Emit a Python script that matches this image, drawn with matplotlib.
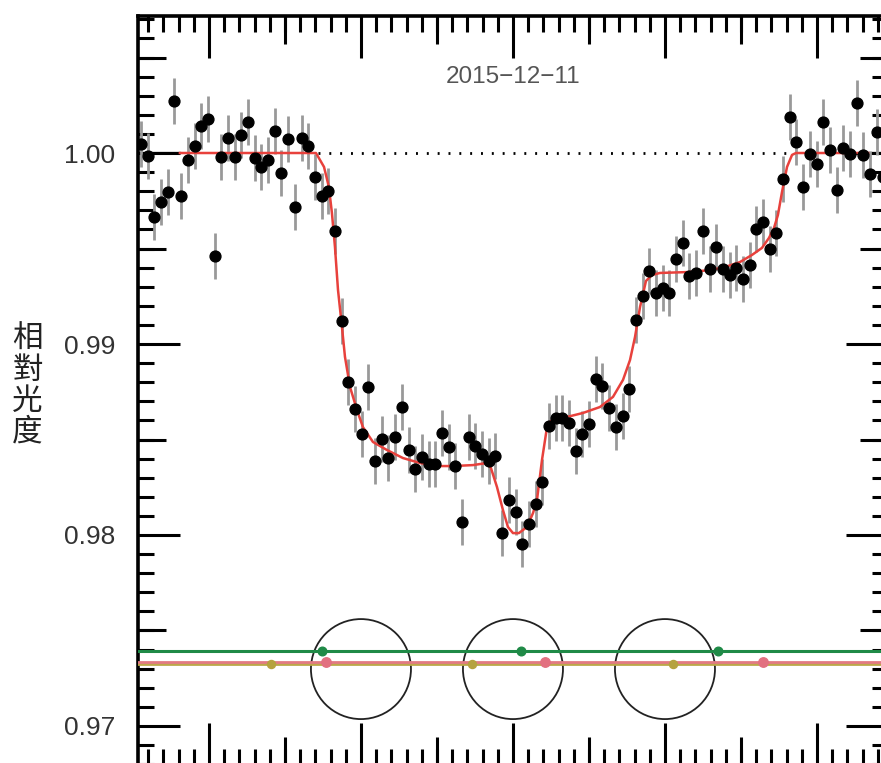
import matplotlib
matplotlib.use('Agg')
import matplotlib.pyplot as plt
from matplotlib.patches import Ellipse
from matplotlib.ticker import MultipleLocator, FormatStrFormatter

plt.rcParams['font.family'] = ['Liberation Sans', 'DejaVu Sans']

# observation times (hours from mid-transit) and relative flux
time_h = [-2.447, -2.403, -2.359, -2.315, -2.271, -2.227, -2.183, -2.139, -2.095, -2.051,
          -2.007, -1.963, -1.919, -1.875, -1.831, -1.787, -1.743, -1.699, -1.655, -1.611,
          -1.567, -1.523, -1.479, -1.435, -1.391, -1.347, -1.303, -1.259, -1.215, -1.171,
          -1.127, -1.083, -1.039, -0.995, -0.951, -0.907, -0.863, -0.819, -0.775, -0.731,
          -0.687, -0.643, -0.599, -0.555, -0.511, -0.467, -0.423, -0.379, -0.335, -0.291,
          -0.247, -0.203, -0.159, -0.115, -0.071, -0.027, 0.017, 0.061, 0.105, 0.149,
          0.193, 0.237, 0.281, 0.325, 0.369, 0.413, 0.457, 0.501, 0.545, 0.589,
          0.633, 0.677, 0.721, 0.765, 0.809, 0.853, 0.897, 0.941, 0.985, 1.029,
          1.073, 1.117, 1.161, 1.205, 1.249, 1.293, 1.337, 1.381, 1.425, 1.469,
          1.513, 1.557, 1.601, 1.645, 1.689, 1.733, 1.777, 1.821, 1.865, 1.909,
          1.953, 1.997, 2.041, 2.085, 2.129, 2.173, 2.217, 2.261, 2.305, 2.349,
          2.393, 2.437]
flux = [1.00047, 0.99984, 0.99665, 0.99743, 0.99796, 1.00272, 0.99775, 0.99963, 1.00037, 1.00141,
        1.00178, 0.99461, 0.99979, 1.00079, 0.99979, 1.00094, 1.00162, 0.99974, 0.99927, 0.99963,
        1.00115, 0.99895, 1.00073, 0.99717, 1.00079, 1.00037, 0.99874, 0.99775, 0.99801, 0.99592,
        0.99120, 0.98801, 0.98660, 0.98529, 0.98775, 0.98387, 0.98503, 0.98403, 0.98513, 0.98670,
        0.98445, 0.98346, 0.98408, 0.98372, 0.98372, 0.98534, 0.98461, 0.98361, 0.98068, 0.98513,
        0.98466, 0.98424, 0.98387, 0.98414, 0.98010, 0.98183, 0.98120, 0.97953, 0.98058, 0.98162,
        0.98277, 0.98571, 0.98613, 0.98613, 0.98586, 0.98440, 0.98529, 0.98581, 0.98817, 0.98780,
        0.98665, 0.98565, 0.98623, 0.98764, 0.99126, 0.99251, 0.99382, 0.99267, 0.99293, 0.99267,
        0.99445, 0.99529, 0.99356, 0.99372, 0.99592, 0.99393, 0.99508, 0.99393, 0.99361, 0.99398,
        0.99340, 0.99414, 0.99602, 0.99639, 0.99497, 0.99581, 0.99864, 1.00188, 1.00058, 0.99822,
        0.99995, 0.99942, 1.00162, 1.00016, 0.99806, 1.00026, 0.99995, 1.00262, 0.99990, 0.99890,
        1.00110, 0.99874]
flux_err = 0.0012

# transit model (red curve)
model_t = [-2.191, -1.296, -1.243, -1.211, -1.191, -1.171, -1.151, -1.125, -1.105, -1.072,
           -1.026, -0.987, -0.921, -0.829, -0.724, -0.612, -0.500, -0.395, -0.263, -0.171,
           -0.145, -0.105, -0.066, -0.033, 0.000, 0.039, 0.092, 0.132, 0.158, 0.191,
           0.224, 0.250, 0.355, 0.461, 0.572, 0.658, 0.724, 0.770, 0.803, 0.836,
           0.875, 0.914, 0.967, 1.164, 1.296, 1.395, 1.493, 1.572, 1.638, 1.684,
           1.717, 1.743, 1.770, 1.803, 1.836, 1.862, 2.336]
model_f = [1.00000, 1.00000, 0.99927, 0.99822, 0.99686, 0.99508, 0.99283, 0.99089, 0.98932, 0.98775,
           0.98654, 0.98565, 0.98487, 0.98445, 0.98403, 0.98377, 0.98361, 0.98361, 0.98366, 0.98377,
           0.98351, 0.98251, 0.98131, 0.98042, 0.98010, 0.98010, 0.98042, 0.98115, 0.98183, 0.98393,
           0.98565, 0.98597, 0.98618, 0.98639, 0.98670, 0.98723, 0.98812, 0.98916, 0.99037, 0.99194,
           0.99330, 0.99361, 0.99372, 0.99377, 0.99387, 0.99403, 0.99429, 0.99466, 0.99503, 0.99555,
           0.99607, 0.99675, 0.99796, 0.99927, 0.99990, 1.00000, 1.00000]

# planet positions drawn across the stellar disk
star_t = [-1.0, 0.0, 1.0]
star_y = 0.97298
star_rx, star_ry = 0.329, 0.002618
green_t = [-1.257, 0.053, 1.349]
green_y = 0.97393
pink_t = [-1.230, 0.211, 1.645]
pink_y = 0.97337
olive_t = [-1.592, -0.270, 1.053]
olive_y = 0.97322

xlim = (-2.467, 2.467)
ylim = (0.967958, 1.007173)
dotted_span = (-1.283, 1.822)

fig = plt.figure(figsize=(8.81, 7.63), dpi=100)
rect = [0.1566, -0.00262, 0.8513, 0.98165]
ax = fig.add_axes(rect)

# baseline at 1.0
ax.plot([xlim[0], model_t[0]], [1, 1], color='black', lw=1.6, zorder=2)
ax.plot([model_t[-1], xlim[1]], [1, 1], color='black', lw=1.6, zorder=2)
ax.plot(dotted_span, [1, 1], color='black', lw=2.0, ls=(0, (0.7, 3.2)), zorder=2)

ax.errorbar(time_h, flux, yerr=flux_err, fmt='none', ecolor='#999999',
            elinewidth=2.0, capsize=0, zorder=2)
ax.plot(model_t, model_f, color='#e8413c', lw=1.8, zorder=3)
ax.plot(time_h, flux, 'o', color='black', ms=7.8, mec='black', zorder=4)

# star disks and planet tracks
for c in star_t:
    ax.add_patch(Ellipse((c, star_y), 2 * star_rx, 2 * star_ry, fill=False,
                         ec='#222222', lw=1.3, zorder=2))
ax.axhline(green_y, color='#1f8a47', lw=2.2, zorder=3)
ax.axhline(olive_y, color='#bba84a', lw=2.0, zorder=3)
ax.axhline(pink_y, color='#e27a82', lw=2.0, zorder=3)
ax.plot(green_t, [green_y] * len(green_t), 'o', color='#1f8a47', ms=6.2, zorder=4)
ax.plot(olive_t, [olive_y] * len(olive_t), 'o', color='#b5a23f', ms=5.8, zorder=4)
ax.plot(pink_t, [pink_y] * len(pink_t), 'o', color='#e27080', ms=6.8, zorder=4)

ax.text(0, 1.00398, '2015\u221212\u221211', ha='center', va='center',
        fontsize=17.5, color='#555555')

ax.set_xlim(xlim)
ax.set_ylim(ylim)
ax.xaxis.set_major_locator(MultipleLocator(1))
ax.xaxis.set_minor_locator(MultipleLocator(0.1))
ax.yaxis.set_major_locator(MultipleLocator(0.01))
ax.yaxis.set_minor_locator(MultipleLocator(0.001))
ax.yaxis.set_major_formatter(FormatStrFormatter('%.2f'))
ax.tick_params(which='both', direction='in', top=True, bottom=True,
               left=True, right=True, width=2.2, color='black')
ax.tick_params(which='major', length=30)
ax.tick_params(which='minor', length=11.5)
ax.tick_params(axis='x', labelbottom=False)
ax.tick_params(axis='y', labelsize=19, labelcolor='#333333', pad=16.5)
for s in ax.spines.values():
    s.set_linewidth(2.6)

# medium-length ticks at the half steps
ax2 = fig.add_axes(rect, facecolor='none')
ax2.set_xlim(xlim)
ax2.set_ylim(ylim)
ax2.set_xticks([-1.5, -0.5, 0.5, 1.5])
ax2.set_yticks([0.975, 0.985, 0.995, 1.005])
ax2.tick_params(direction='in', top=True, bottom=True, left=True, right=True,
                length=20, width=2.2, labelbottom=False, labelleft=False)
for s in ax2.spines.values():
    s.set_visible(False)

# vertical y label, one character per line
for k, ch in enumerate('相對光度'):
    fig.text(27.5 / 881, 1 - (339 + 31 * k) / 763, ch, ha='center', va='center',
             fontsize=22, color='#222222',
             family=['Noto Sans CJK TC', 'DejaVu Sans'])

fig.savefig('out.png', dpi=100)
